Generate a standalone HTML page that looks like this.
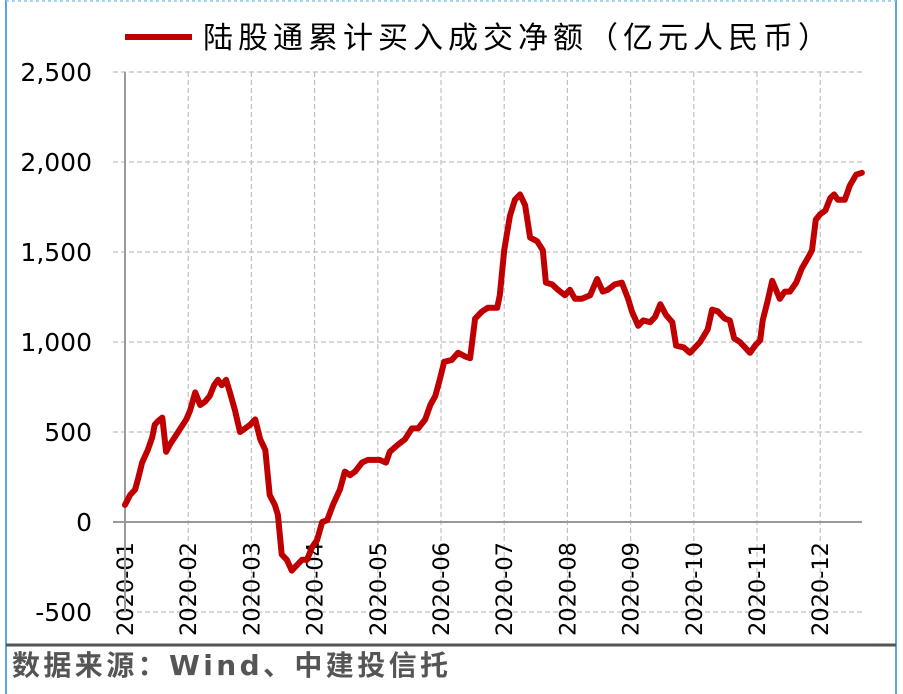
<!DOCTYPE html>
<html><head><meta charset="utf-8"><style>
body{margin:0;background:#fff;}
#wrap{position:relative;width:903px;height:694px;overflow:hidden;background:#fff;font-family:"DejaVu Sans","Noto Sans CJK SC",sans-serif;}
</style></head><body>
<div id="wrap">
<svg id="chart" width="903" height="694" style="font-family:'DejaVu Sans','Noto Sans CJK SC',sans-serif"></svg>
</div>
<script>
const months = ["2020-01","2020-02","2020-03","2020-04","2020-05","2020-06","2020-07","2020-08","2020-09","2020-10","2020-11","2020-12"];
const yTicks = [-500,0,500,1000,1500,2000,2500];
const yTickLabels = ["-500","0","500","1,000","1,500","2,000","2,500"];
const seriesT = [0,.08,.16,.21,.27,.36,.43,.47,.52,.59,.65,.71,.84,.97,1.03,1.11,1.19,1.27,1.34,1.41,1.47,1.53,1.60,1.66,1.74,1.82,1.90,1.98,2.06,2.14,2.22,2.29,2.37,2.42,2.48,2.56,2.64,2.72,2.80,2.88,2.96,3.04,3.12,3.20,3.29,3.40,3.48,3.56,3.64,3.75,3.84,4.03,4.13,4.19,4.32,4.43,4.54,4.64,4.75,4.83,4.91,4.98,5.05,5.17,5.27,5.38,5.46,5.54,5.65,5.74,5.89,5.93,6.00,6.09,6.17,6.25,6.33,6.41,6.52,6.61,6.66,6.76,6.85,6.96,7.04,7.12,7.23,7.36,7.47,7.56,7.64,7.75,7.86,7.96,8.02,8.12,8.20,8.31,8.39,8.47,8.56,8.66,8.72,8.84,8.94,9.10,9.22,9.29,9.38,9.49,9.57,9.64,9.73,9.81,9.89,9.97,10.05,10.09,10.17,10.24,10.30,10.36,10.44,10.52,10.62,10.71,10.81,10.87,10.93,11.00,11.08,11.16,11.22,11.28,11.39,11.47,11.57,11.66];
const seriesV = [95,150,180,245,330,400,470,540,560,580,390,430,500,570,620,720,650,670,700,760,790,760,790,720,620,500,520,540,570,460,400,150,95,40,-180,-210,-270,-240,-210,-210,-140,-100,0,10,95,180,280,260,280,330,345,345,330,390,430,460,520,520,570,650,700,790,890,900,940,920,910,1130,1170,1190,1190,1260,1510,1700,1790,1820,1760,1580,1560,1510,1330,1320,1290,1260,1290,1240,1240,1260,1350,1280,1290,1320,1330,1240,1170,1090,1120,1110,1140,1210,1150,1110,980,970,940,1000,1070,1180,1170,1130,1120,1020,1000,970,940,980,1010,1120,1230,1340,1290,1240,1280,1280,1330,1410,1470,1510,1680,1710,1730,1800,1820,1790,1790,1870,1930,1940];

const svg = document.getElementById('chart');
const NS = "http://www.w3.org/2000/svg";
const X0=125, MW=63.2, Y0=522, PX_PER=90/500, XR=862;
function xs(t){return X0+t*MW;}
function ys(v){return Y0-v*PX_PER;}
function mk(tag, attrs, parent){const e=document.createElementNS(NS,tag);for(const k in attrs)e.setAttribute(k,attrs[k]);(parent||svg).appendChild(e);return e;}

let e;
e=mk('line',{x1:6,y1:0,x2:6,y2:694,stroke:'#5aa7dc','stroke-width':2});


e=mk('line',{x1:896,y1:0,x2:896,y2:694,stroke:'#5aa7dc','stroke-width':2});


e=mk('line',{x1:6,y1:1,x2:896,y2:1,stroke:'#8cc6ec','stroke-width':1.5,'stroke-dasharray':'3,3'});


e=mk('line',{x1:6,y1:645,x2:896,y2:645,stroke:'#555','stroke-width':3});



yTicks.forEach((v,i)=>{
  const y=ys(v);
  if(v!==0){
    const g=mk('line',{x1:113,y1:y,x2:XR,y2:y,stroke:'#c0c0c0','stroke-width':1.2,'stroke-dasharray':'5,3'});
    
    
  }
  const t=mk('text',{x:92,y:y+9,'text-anchor':'end','font-size':25,fill:'#000'});
  t.textContent=yTickLabels[i];
  
  
});
months.forEach((m,i)=>{
  const x=xs(i);
  if(i>0){
    const g=mk('line',{x1:x,y1:72,x2:x,y2:612,stroke:'#c0c0c0','stroke-width':1.2,'stroke-dasharray':'5,3'});
    
    
  }
  const t=mk('text',{x:0,y:0,'text-anchor':'end','font-size':22.5,fill:'#000',transform:`translate(${x+8},542) rotate(-90)`});
  t.textContent=m;
  
  
});
e=mk('line',{x1:113,y1:Y0,x2:XR,y2:Y0,stroke:'#999','stroke-width':2});


e=mk('line',{x1:X0,y1:72,x2:X0,y2:612,stroke:'#999','stroke-width':2});



const pts=seriesT.map((t,i)=>xs(t).toFixed(1)+','+ys(seriesV[i]).toFixed(1)).join(' ');
e=mk('polyline',{points:pts,fill:'none',stroke:'#c00000','stroke-width':6,'stroke-linejoin':'round','stroke-linecap':'round'});



e=mk('line',{x1:125,y1:37,x2:192,y2:37,stroke:'#c00000','stroke-width':6});


e=mk('text',{x:203,y:48,'font-size':30,fill:'#000',textLength:625});
e.textContent='陆股通累计买入成交净额（亿元人民币）';



e=mk('text',{x:12,y:675,'font-size':28,'font-weight':'bold',fill:'#555',textLength:436});
e.textContent='数据来源：Wind、中建投信托';


</script>
</body></html>
